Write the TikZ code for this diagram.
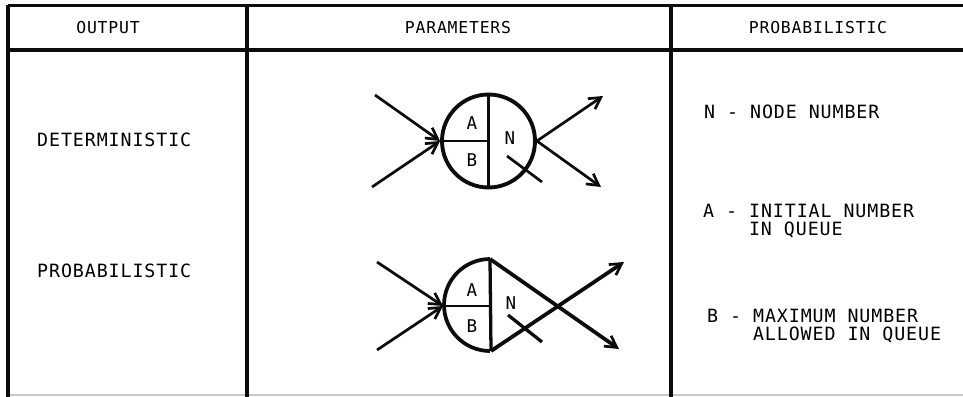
\documentclass[tikz,border=0pt]{standalone}
\usepackage{fontspec}
\newfontfamily\plotfont[LetterSpace=5]{DejaVu Sans Mono}
\usetikzlibrary{arrows.meta}
\definecolor{InkBlack}{RGB}{12,12,12}
\definecolor{FadedGray}{RGB}{200,200,200}
\tikzset{
  rule/.style={InkBlack, line width=3.4pt},
  headtext/.style={font=\plotfont\fontsize{14}{14}\selectfont, inner sep=0pt},
  bodytext/.style={font=\plotfont\fontsize{15.6}{15.3}\selectfont, inner sep=0pt,
                   anchor=west, align=left},
  celltext/.style={font=\plotfont\fontsize{15}{15}\selectfont, inner sep=0pt},
  flow/.style={InkBlack, line width=2.3pt,
               -{Straight Barb[length=3.4mm, width=3.8mm, line width=2.3pt]}},
  heavyflow/.style={flow, line width=3.2pt}
}

\begin{document}
\begin{tikzpicture}[x=0.03cm, y=-0.03cm]
  \useasboundingbox (0,0) rectangle (963,397);
  % Table frame
  \draw[rule, line width=2.8pt] (8,5.5) -- (963,5.5);
  \draw[rule] (8,50) -- (963,50);
  \draw[FadedGray, line width=1.5pt] (8,395) -- (963,395);
  \foreach \x in {8,247,671} {
    \draw[rule] (\x,5.5) -- (\x,397);
  }
  % Header row
  \node[headtext] (hout) at (108,27.5) {OUTPUT};
  \node[headtext] (hpar) at (458,27.5) {PARAMETERS};
  \node[headtext] (hprb) at (818,27.5) {PROBABILISTIC};
  % Output column
  \node[bodytext] (odet) at (37,140) {DETERMINISTIC};
  \node[bodytext] (oprb) at (37,271) {PROBABILISTIC};
  % Deterministic node: full circle
  \node[circle, draw=InkBlack, line width=3.3pt, minimum size=2.79cm, inner sep=0pt]
    (det) at (488.5,141) {};
  \draw[InkBlack, line width=2.8pt] (det.north) -- (det.south);
  \draw[InkBlack, line width=2.4pt] (det.west) -- (det.center);
  \node[celltext] (detA) at (472,123) {A};
  \node[celltext] (detB) at (472,160) {B};
  \node[celltext] (detN) at (510,138) {N};
  \coordinate (din1) at (375,95);
  \coordinate (din2) at (372,187);
  \coordinate (dout1) at (603,96);
  \coordinate (dout2) at (601,187);
  \coordinate (dtk1) at (507,156);
  \coordinate (dtk2) at (542,182);
  \draw[flow] (din1) -- (det.west);
  \draw[flow] (din2) -- (det.west);
  \draw[flow] (det.east) -- (dout1);
  \draw[flow] (det.east) -- (dout2);
  \draw[InkBlack, line width=2.3pt] (dtk1) -- (dtk2);
  % Probabilistic node: half circle and crossed branches
  \coordinate (prbT) at (490,259);
  \coordinate (prbB) at (491,351);
  \coordinate (prbW) at (443,306);
  \coordinate (prbC) at (490.5,306);
  \draw[InkBlack, line width=3.2pt] (prbT) arc[start angle=90, end angle=270, radius=1.38cm];
  \draw[InkBlack, line width=2.8pt] (prbT) -- (prbB);
  \draw[InkBlack, line width=2.4pt] (prbW) -- (prbC);
  \node[celltext] (prbA) at (472,290) {A};
  \node[celltext] (prbBl) at (472,326) {B};
  \node[celltext] (prbN) at (511,303) {N};
  \coordinate (pin1) at (377,262);
  \coordinate (pin2) at (377,350);
  \coordinate (pout1) at (624,262);
  \coordinate (pout2) at (619,349);
  \coordinate (ptk1) at (508,315);
  \coordinate (ptk2) at (542,342);
  \draw[flow] (pin1) -- (prbW);
  \draw[flow] (pin2) -- (prbW);
  \draw[heavyflow] (prbT) -- (pout2);
  \draw[heavyflow] (prbB) -- (pout1);
  \draw[InkBlack, line width=2.8pt] (ptk1) -- (ptk2);
  % Legend column
  \node[bodytext] (lgN) at (704,112) {N - NODE NUMBER};
  \node[bodytext] (lgA) at (703,221) {A - INITIAL NUMBER\\\phantom{A - }IN QUEUE};
  \node[bodytext] (lgB) at (707,326) {B - MAXIMUM NUMBER\\\phantom{B - }ALLOWED IN QUEUE};
\end{tikzpicture}
\end{document}
